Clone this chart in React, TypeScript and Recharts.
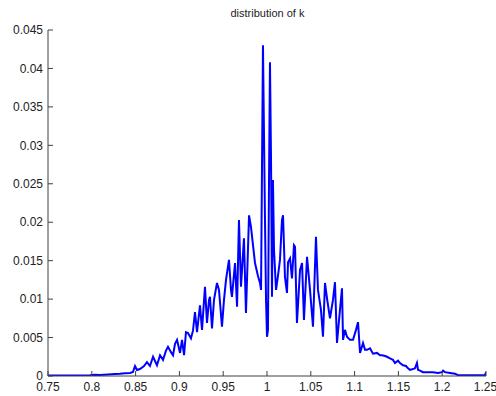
import { Line, LineChart, XAxis, YAxis } from "recharts";

// k values (x) and their frequency (y).
const K = [
  0.75, 0.7637, 0.7808, 0.7979, 0.8037, 0.8094, 0.8185, 0.8265, 0.8322, 0.8379,
  0.8436, 0.847, 0.8493, 0.8516, 0.855, 0.8596, 0.863, 0.8664, 0.8699, 0.8744,
  0.8779, 0.8813, 0.8847, 0.887, 0.8904, 0.8927, 0.895, 0.8973, 0.9007, 0.903,
  0.9053, 0.9075, 0.9098, 0.9132, 0.9155, 0.9178, 0.9201, 0.9235, 0.9258, 0.9292,
  0.9315, 0.9338, 0.9349, 0.9372, 0.9395, 0.9429, 0.9452, 0.9486, 0.9509, 0.9532,
  0.9566, 0.9589, 0.96, 0.9635, 0.9658, 0.968, 0.9703, 0.9737, 0.976, 0.9795,
  0.9817, 0.9863, 0.9897, 0.992, 0.9932, 0.9943, 0.9954, 0.9966, 0.9977, 0.9989,
  1.0, 1.0011, 1.0023, 1.0034, 1.0046, 1.0057, 1.0068, 1.008, 1.0103, 1.0126,
  1.0148, 1.0171, 1.0183, 1.0205, 1.0228, 1.024, 1.0263, 1.0285, 1.0308, 1.032,
  1.0342, 1.0377, 1.04, 1.0422, 1.0457, 1.0491, 1.0525, 1.0559, 1.0582, 1.0616,
  1.0639, 1.0662, 1.0685, 1.0719, 1.0753, 1.0776, 1.0799, 1.0833, 1.0856, 1.0868,
  1.089, 1.0913, 1.0947, 1.0982, 1.1016, 1.1039, 1.1062, 1.1096, 1.1119, 1.1142,
  1.1176, 1.121, 1.1256, 1.129, 1.1313, 1.1347, 1.137, 1.1404, 1.1438, 1.1461,
  1.1495, 1.1518, 1.1553, 1.1587, 1.161, 1.1632, 1.1667, 1.1689, 1.1712, 1.1724,
  1.1747, 1.1781, 1.1838, 1.1895, 1.1952, 1.1998, 1.2009, 1.2032, 1.2089, 1.2146,
  1.218, 1.226, 1.2374, 1.2489, 1.25,
];

const FREQ = [
  0.00005, 0.00005, 0.00008, 0.0001, 0.00016, 0.00013, 0.0002, 0.00026, 0.00029, 0.00036,
  0.00039, 0.00052, 0.0013, 0.00078, 0.00091, 0.0013, 0.0018, 0.0013, 0.0025, 0.0014,
  0.0027, 0.0021, 0.0033, 0.0038, 0.0031, 0.0027, 0.0042, 0.0047, 0.003, 0.0047,
  0.0027, 0.0057, 0.0056, 0.0049, 0.0059, 0.0083, 0.0057, 0.0092, 0.006, 0.0116,
  0.0069, 0.0099, 0.0103, 0.0062, 0.0099, 0.0121, 0.0112, 0.0064, 0.0099, 0.0125,
  0.0151, 0.0112, 0.0103, 0.0147, 0.009, 0.0203, 0.0116, 0.0179, 0.0082, 0.0209,
  0.0194, 0.0147, 0.013, 0.0121, 0.0112, 0.0272, 0.043, 0.0311, 0.0203, 0.0099,
  0.0051, 0.006, 0.0255, 0.0408, 0.0281, 0.0103, 0.0255, 0.0164, 0.0112, 0.0131,
  0.0151, 0.0203, 0.0209, 0.0129, 0.0108, 0.0148, 0.0153, 0.0127, 0.017, 0.0168,
  0.0069, 0.0138, 0.0147, 0.0073, 0.0155, 0.0112, 0.0064, 0.0181, 0.0112, 0.0086,
  0.0051, 0.0121, 0.0101, 0.0075, 0.0099, 0.0122, 0.0043, 0.0086, 0.0114, 0.0047,
  0.006, 0.0051, 0.0047, 0.0047, 0.006, 0.007, 0.003, 0.0043, 0.0034, 0.0034,
  0.0036, 0.0029, 0.003, 0.0027, 0.0027, 0.0026, 0.0025, 0.0023, 0.0021, 0.0017,
  0.002, 0.0017, 0.0014, 0.0013, 0.001, 0.0008, 0.0009, 0.001, 0.0017, 0.0008,
  0.0007, 0.0005, 0.0005, 0.0005, 0.0004, 0.0005, 0.0007, 0.0005, 0.0004, 0.0003,
  0.0001, 0.0001, 0.0001, 0.0001, 0.0005,
];

const X_TICKS = [0.75, 0.8, 0.85, 0.9, 0.95, 1, 1.05, 1.1, 1.15, 1.2, 1.25];
const X_LABELS = ["0.75", "0.8", "0.85", "0.9", "0.95", "1", "1.05", "1.1", "1.15", "1.2", "1.25"];
const Y_TICKS = [0, 0.005, 0.01, 0.015, 0.02, 0.025, 0.03, 0.035, 0.04, 0.045];
const Y_LABELS = ["0", "0.005", "0.01", "0.015", "0.02", "0.025", "0.03", "0.035", "0.04", "0.045"];

const FONT = "'Liberation Sans', Arial, sans-serif";
const AXIS = "#404040";

const data = K.map((k, i) => ({ k, p: FREQ[i] }));

const xLabel = (v: number) => X_LABELS[X_TICKS.indexOf(v)] ?? "";
const yLabel = (v: number) => Y_LABELS[Y_TICKS.indexOf(v)] ?? "";
const blank = () => "";

export default function App() {
  return (
    <div style={{ position: "fixed", left: 0, top: 0, width: 496, height: 396, background: "#fff" }}>
      <div
        style={{
          position: "absolute", left: 0, top: 7, width: 535, textAlign: "center",
          fontFamily: FONT, fontSize: 11, color: "#222",
        }}
      >
        distribution of k
      </div>
      <LineChart width={496} height={396} data={data} margin={{ top: 30, right: 10, bottom: 0, left: 0 }}>
        <XAxis
          xAxisId="b" dataKey="k" type="number" domain={[0.75, 1.25]} ticks={X_TICKS}
          tickFormatter={xLabel} height={20} tickSize={-5} tickMargin={11}
          axisLine={{ stroke: AXIS }} tickLine={{ stroke: AXIS }}
          tick={{ fill: "#222", fontSize: 12, fontFamily: FONT }} allowDataOverflow
        />
        <XAxis
          xAxisId="t" orientation="top" dataKey="k" type="number" domain={[0.75, 1.25]} ticks={X_TICKS}
          tickFormatter={blank} height={0} tickSize={-5}
          axisLine={{ stroke: AXIS }} tickLine={{ stroke: AXIS }} allowDataOverflow
        />
        <YAxis
          yAxisId="l" type="number" domain={[0, 0.045]} ticks={Y_TICKS} tickFormatter={yLabel}
          width={48} tickSize={-5} tickMargin={10}
          axisLine={{ stroke: AXIS }} tickLine={{ stroke: AXIS }}
          tick={{ fill: "#222", fontSize: 12, fontFamily: FONT }} allowDataOverflow
        />
        <YAxis
          yAxisId="r" orientation="right" type="number" domain={[0, 0.045]} ticks={Y_TICKS}
          tickFormatter={blank} width={0} tickSize={-5}
          axisLine={{ stroke: AXIS }} tickLine={{ stroke: AXIS }} allowDataOverflow
        />
        <Line
          xAxisId="b" yAxisId="l" dataKey="p" type="linear" stroke="#0000ff" strokeWidth={2}
          dot={false} isAnimationActive={false}
        />
      </LineChart>
    </div>
  );
}
